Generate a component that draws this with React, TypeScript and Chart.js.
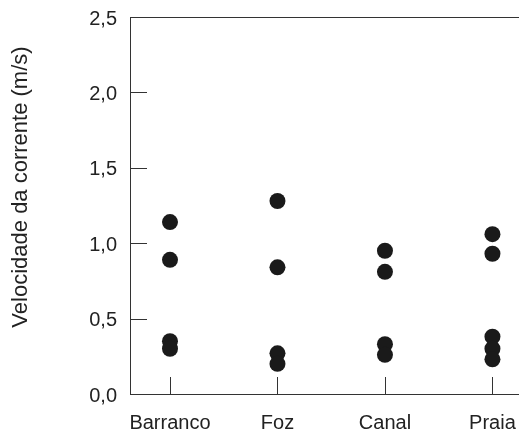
import React, { useEffect, useRef } from "react";
import { Chart, registerables } from "chart.js";

Chart.register(...registerables);

const categories = ["Barranco", "Foz", "Canal", "Praia"];
const barranco = [1.14, 0.89, 0.35, 0.3];
const foz = [1.28, 0.84, 0.27, 0.2];
const canal = [0.95, 0.81, 0.33, 0.26];
const praia = [1.06, 0.93, 0.38, 0.3, 0.23];
const yTicks = [0, 0.5, 1.0, 1.5, 2.0, 2.5];
const yTitle = "Velocidade da corrente (m/s)";

const FONT = "'Liberation Sans', Arial, Helvetica, sans-serif";
const TEXT = "#222222";
const AXIS = "#333333";

const innerTicks = {
  id: "innerTicks",
  beforeDatasetsDraw(chart: any) {
    const { ctx, chartArea, scales } = chart;
    const xs = scales.x;
    const ys = scales.y;
    ctx.save();
    ctx.strokeStyle = AXIS;
    ctx.lineWidth = 1;
    ctx.beginPath();
    // top frame line
    ctx.moveTo(chartArea.left, Math.round(chartArea.top) + 0.5);
    ctx.lineTo(chartArea.right, Math.round(chartArea.top) + 0.5);
    // y ticks pointing inward
    yTicks.forEach((v) => {
      const py = Math.round(ys.getPixelForValue(v)) + 0.5;
      ctx.moveTo(chartArea.left, py);
      ctx.lineTo(chartArea.left + 17, py);
    });
    // x ticks pointing inward
    categories.forEach((_, i) => {
      const px = Math.round(xs.getPixelForValue(i)) + 0.5;
      ctx.moveTo(px, chartArea.bottom);
      ctx.lineTo(px, chartArea.bottom - 17);
    });
    ctx.stroke();
    // y axis title
    ctx.fillStyle = TEXT;
    ctx.font = `22px ${FONT}`;
    ctx.translate(21, 187);
    ctx.rotate(-Math.PI / 2);
    ctx.textAlign = "center";
    ctx.textBaseline = "middle";
    ctx.fillText(yTitle, 0, 0);
    ctx.restore();
  },
};

export default function App() {
  const ref = useRef<HTMLCanvasElement | null>(null);
  useEffect(() => {
    if (!ref.current) return;
    const groups = [barranco, foz, canal, praia];
    const points: { x: number; y: number }[] = [];
    groups.forEach((g, i) => g.forEach((v) => points.push({ x: i, y: v })));
    const chart = new Chart(ref.current, {
      type: "scatter",
      data: {
        datasets: [
          {
            data: points,
            pointRadius: 8,
            pointHoverRadius: 8,
            backgroundColor: "#1a1a1a",
            borderColor: "#1a1a1a",
            borderWidth: 0,
          },
        ],
      },
      options: {
        responsive: false,
        animation: false,
        devicePixelRatio: 1,
        layout: { autoPadding: false, padding: { top: 17, right: 0, bottom: 0, left: 0 } },
        plugins: { legend: { display: false }, tooltip: { enabled: false } },
        scales: {
          x: {
            type: "linear",
            min: -0.372,
            max: 3.247,
            grid: { display: false, drawTicks: false },
            border: { display: true, color: AXIS, width: 1 },
            afterBuildTicks: (scale: any) => {
              scale.ticks = categories.map((_, i) => ({ value: i }));
            },
            afterFit: (scale: any) => {
              scale.height = 35;
              scale.paddingLeft = 0;
              scale.paddingRight = 0;
            },
            ticks: {
              autoSkip: false,
              maxRotation: 0,
              padding: 17,
              color: TEXT,
              font: { family: FONT, size: 20 },
              callback: (v: any) => categories[Number(v)] ?? "",
            },
          },
          y: {
            type: "linear",
            min: 0,
            max: 2.5,
            grid: { display: false, drawTicks: false },
            border: { display: true, color: AXIS, width: 1 },
            afterBuildTicks: (scale: any) => {
              scale.ticks = yTicks.map((v) => ({ value: v }));
            },
            afterFit: (scale: any) => {
              scale.width = 130;
              scale.paddingTop = 0;
              scale.paddingBottom = 0;
            },
            ticks: {
              padding: 13,
              labelOffset: 2,
              color: TEXT,
              font: { family: FONT, size: 20 },
              callback: (v: any) => Number(v).toFixed(1).replace(".", ","),
            },
          },
        },
      },
      plugins: [innerTicks],
    });
    return () => chart.destroy();
  }, []);
  return (
    <canvas
      ref={ref}
      width={519}
      height={429}
      style={{ position: "absolute", left: 0, top: 0, display: "block", background: "#ffffff" }}
    />
  );
}
